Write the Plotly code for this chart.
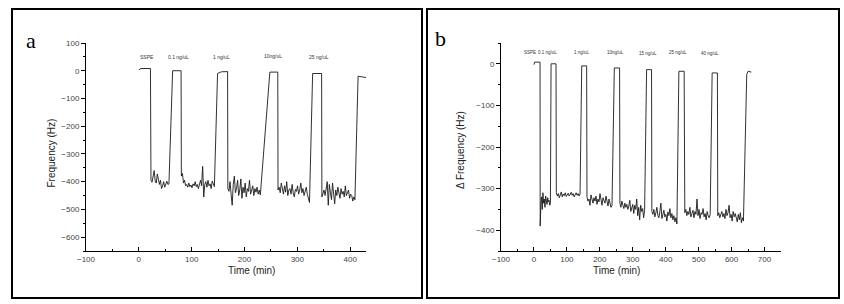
import numpy as np
import plotly.graph_objects as go

# ---------------- Panel a data ----------------
A_TOP_T = [[0, 4, 22], [64, 80], [149, 156, 168], [248, 263], [329, 346], [415, 432]]
A_TOP_F = [[3, 8, 8], [0, 0], [-10, -4, -3], [-5, -5], [-10, -10], [-20, -25]]
A_PLAT_T = [[23, 57], [80.5, 143], [168.5, 230], [263.5, 323], [346.5, 409]]
A_PLAT_F = [
    [-395, -402, -385, -360, -398, -405, -372, -400, -410, -395, -425, -415, -400, -420, -405, -398, -410, -408],
    [-380, -370, -405, -395, -415, -410, -420, -405, -418, -412, -422, -408, -415, -400, -418, -410, -425, -405,
     -395, -415, -345, -455, -410, -400, -420, -395, -415, -408, -425, -398, -412, -418],
    [-425, -435, -400, -445, -485, -410, -380, -440, -425, -395, -450, -430, -390, -460, -420, -440, -405, -455,
     -425, -435, -395, -445, -430, -415, -450, -425, -438, -420, -445, -430, -448],
    [-430, -420, -440, -405, -435, -445, -415, -438, -400, -450, -430, -425, -445, -410, -440, -455, -428, -435,
     -415, -445, -430, -405, -440, -425, -450, -435, -420, -445, -460, -475],
    [-455, -445, -430, -450, -420, -400, -485, -410, -440, -465, -405, -445, -480, -430, -450, -420, -440, -460,
     -425, -445, -435, -455, -415, -450, -440, -430, -460, -445, -450, -470, -455, -465],
]
A_LABELS = ["SSPE", "0.1 ng/uL", "1 ng/uL", "10ng/uL", "25 ng/uL"]
A_LABEL_T = [15, 76, 157, 254, 341]
A_LABEL_F = [50, 50, 50, 54, 50]

# ---------------- Panel b data ----------------
B_TOP_T = [[0, 2, 18.5], [52, 67], [145, 160], [244, 260], [342, 357], [440, 456], [541, 557], [646, 650, 660]]
B_TOP_F = [[-2, 4, 4], [0, 0], [-5, -5], [-10, -10], [-14, -14], [-18, -18], [-22, -22], [-25, -18, -20]]
B_PLAT_T = [[19, 50], [68, 140], [161, 237], [261, 336], [358, 434], [458, 535], [558, 636]]
B_PLAT_F = [
    [-390, -340, -320, -350, -310, -335, -325, -345, -318, -330, -338, -322, -332, -328, -340, -335],
    [-310, -318, -312, -322, -315, -308, -320, -313, -317, -310, -319, -314, -311, -318, -313, -309, -316, -312,
     -320, -314, -310, -316, -312, -318, -313],
    [-320, -330, -325, -340, -315, -328, -335, -322, -330, -318, -338, -325, -332, -312, -328, -340, -322, -330,
     -335, -318, -328, -342, -325, -335, -345, -340],
    [-335, -345, -330, -340, -348, -335, -345, -338, -350, -342, -328, -355, -345, -338, -360, -340, -350, -325,
     -365, -345, -375, -340, -355, -348, -370, -352],
    [-355, -362, -350, -368, -358, -345, -365, -370, -355, -335, -372, -360, -352, -368, -362, -378, -356, -365,
     -348, -370, -360, -375, -365, -380, -370, -385],
    [-358, -350, -365, -355, -362, -345, -368, -360, -352, -370, -355, -362, -325, -365, -350, -372, -358, -362,
     -348, -368, -360, -375, -355, -365, -370, -362],
    [-365, -358, -370, -362, -355, -368, -360, -372, -350, -365, -358, -340, -370, -362, -378, -355, -368, -360,
     -372, -380, -362, -375, -358, -382, -370, -378],
]
B_LABELS = ["SSPE", "0.1 ng/uL", "1 ng/uL", "10ng/uL", "15 ng/uL", "25 ng/uL", "40 ng/uL"]
B_LABEL_T = [-12, 41, 146, 247, 346, 437, 535]
B_LABEL_F = [27, 27, 27, 27, 25, 27, 25]


def build(top_t, top_f, plat_t, plat_f):
    t, f = [], []
    for i in range(len(plat_f)):
        t += top_t[i]
        f += top_f[i]
        t += list(np.linspace(plat_t[i][0], plat_t[i][1], len(plat_f[i])))
        f += plat_f[i]
    t += top_t[-1]
    f += top_f[-1]
    return t, f


at, af = build(A_TOP_T, A_TOP_F, A_PLAT_T, A_PLAT_F)
bt, bf = build(B_TOP_T, B_TOP_F, B_PLAT_T, B_PLAT_F)

W, H = 844, 304
fig = go.Figure()
line = dict(color="#1a1a1a", width=0.9)
fig.add_trace(go.Scatter(x=at, y=af, mode="lines", line=line, xaxis="x", yaxis="y", showlegend=False,
                         hoverinfo="skip"))
fig.add_trace(go.Scatter(x=bt, y=bf, mode="lines", line=line, xaxis="x2", yaxis="y2", showlegend=False,
                         hoverinfo="skip"))

tickfont = dict(family="Liberation Sans, Arial, sans-serif", size=8, color="#444")


def xax(domain, rng, anchor):
    return dict(domain=domain, range=rng, anchor=anchor, showline=True, linecolor="black", linewidth=1,
                showgrid=False, zeroline=False, ticks="inside", ticklen=4, tickcolor="black",
                tickmode="linear", tick0=0, dtick=100, tickfont=tickfont, automargin=False,
                minor=dict(dtick=50, ticks="inside", ticklen=2, tickcolor="black"))


def yax(domain, rng, anchor):
    return dict(domain=domain, range=rng, anchor=anchor, showline=True, linecolor="black", linewidth=1,
                showgrid=False, zeroline=False, ticks="outside", ticklen=4, tickcolor="black",
                tickmode="linear", tick0=0, dtick=100, tickfont=tickfont, automargin=False,
                minor=dict(dtick=50, ticks="outside", ticklen=2, tickcolor="black"))


ydom = [1 - 251 / H, 1 - 43 / H]
fig.update_layout(
    template="none",
    width=W, height=H, margin=dict(l=0, r=0, t=0, b=0, pad=0, autoexpand=False),
    paper_bgcolor="white", plot_bgcolor="white",
    xaxis=xax([86 / W, 366 / W], [-100, 430], "y"),
    yaxis=yax(ydom, [-650, 100], "x"),
    xaxis2=xax([501 / W, 781 / W], [-100, 750], "y2"),
    yaxis2=yax(ydom, [-450, 50], "x2"),
)

ann = []
lab_font_a = dict(family="Liberation Sans, Arial, sans-serif", size=5, color="#333")
lab_font_b = dict(family="Liberation Sans, Arial, sans-serif", size=4.5, color="#333")
for txt, t, f in zip(A_LABELS, A_LABEL_T, A_LABEL_F):
    ann.append(dict(x=t, y=f, xref="x", yref="y", text=txt, showarrow=False, font=lab_font_a))
for txt, t, f in zip(B_LABELS, B_LABEL_T, B_LABEL_F):
    ann.append(dict(x=t, y=f, xref="x2", yref="y2", text=txt, showarrow=False, font=lab_font_b))

title_font = dict(family="Liberation Sans, Arial, sans-serif", size=10, color="#222")
ann += [
    dict(x=226 / W, y=1 - 278 / H, xref="paper", yref="paper", text="Time (min)", showarrow=False, font=title_font),
    dict(x=642 / W, y=1 - 278 / H, xref="paper", yref="paper", text="Time (min)", showarrow=False, font=title_font),
    dict(x=43 / W, y=1 - 153 / H, xref="paper", yref="paper", text="Frequency (Hz)", textangle=-90,
         showarrow=False, font=title_font),
    dict(x=460 / W, y=1 - 150 / H, xref="paper", yref="paper", text="Δ Frequency (Hz)", textangle=-90,
         showarrow=False, font=title_font),
    dict(x=24 / W, y=1 - 26 / H, xref="paper", yref="paper", text="a", showarrow=False,
         font=dict(family="Liberation Serif, Times New Roman, serif", size=22, color="black")),
    dict(x=440 / W, y=1 - 24 / H, xref="paper", yref="paper", text="b", showarrow=False,
         font=dict(family="Liberation Serif, Times New Roman, serif", size=22, color="black")),
]
fig.update_layout(annotations=ann)

shapes = [
    dict(type="rect", xref="paper", yref="paper", x0=12 / W, x1=422 / W, y0=1 - 298 / H, y1=1 - 9 / H,
         line=dict(color="black", width=2)),
    dict(type="rect", xref="paper", yref="paper", x0=427 / W, x1=839 / W, y0=1 - 298 / H, y1=1 - 9 / H,
         line=dict(color="black", width=2)),
]
fig.update_layout(shapes=shapes)

fig.write_html(
    "out.html",
    config={"displayModeBar": False, "staticPlot": True},
    post_script=(
        "document.documentElement.style.margin='0';"
        "document.body.style.margin='0';document.body.style.padding='0';"
        "document.body.style.overflow='hidden';"
        "var d=document.getElementById('{plot_id}');"
        "d.style.position='fixed';d.style.left='0px';d.style.top='0px';"
    ),
)
